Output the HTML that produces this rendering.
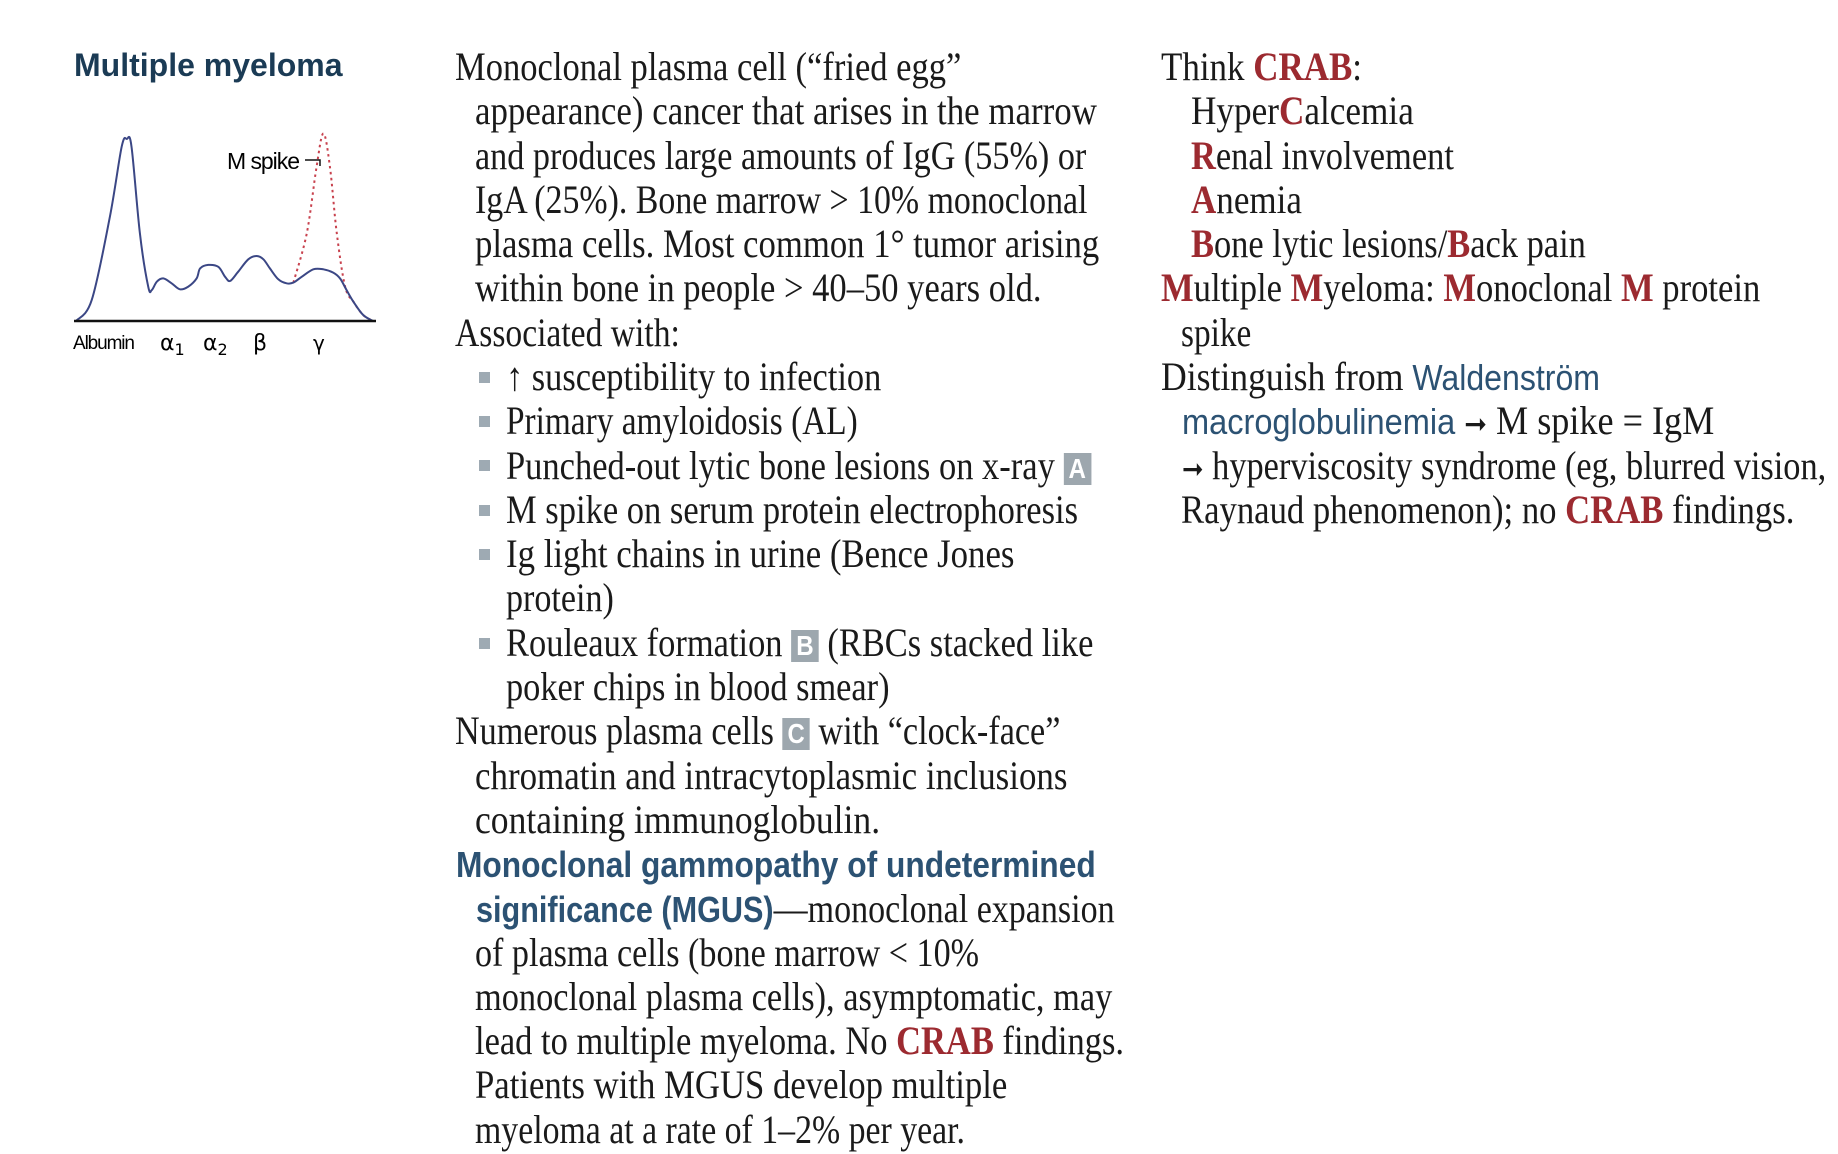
<!DOCTYPE html>
<html>
<head>
<meta charset="utf-8">
<style>
  html,body{margin:0;padding:0;background:#fff;}
  body{width:1838px;height:1154px;position:relative;overflow:hidden;}
  .ln{position:absolute;white-space:nowrap;font-family:"Liberation Serif",serif;font-size:40px;line-height:44px;height:44px;color:#1a1a1a;transform-origin:0 50%;}
  .sans{font-family:"Liberation Sans",sans-serif;font-size:36px;}
  .blue{color:#2c5273;font-weight:bold;}
  .blue2{color:#2c5273;}
  .red{color:#9c2a30;font-weight:bold;}
  .box{display:inline-block;background:#9da7ae;color:#fff;font-family:"Liberation Sans",sans-serif;font-weight:bold;font-size:28px;line-height:32px;width:32px;height:32px;text-align:center;vertical-align:1px;}
  .bul{position:absolute;width:11px;height:11px;background:#9eaab3;}
  #title{position:absolute;left:74px;top:47px;font-family:"Liberation Sans",sans-serif;font-weight:bold;font-size:32px;color:#1b3b55;}
</style>
</head>
<body>
<div id="title">Multiple myeloma</div>

<svg id="chart" width="460" height="380" style="position:absolute;left:0;top:0" xmlns="http://www.w3.org/2000/svg">
  <g id="marks"></g>
  <line x1="74" y1="321" x2="376" y2="321" stroke="#111" stroke-width="2.5"/>
  <text x="73" y="349" font-family="Liberation Sans, sans-serif" font-size="19" textLength="62">Albumin</text>
  <text x="160" y="350" font-family="DejaVu Sans, sans-serif" font-size="22">α<tspan font-size="16" dy="5">1</tspan></text>
  <text x="203" y="350" font-family="DejaVu Sans, sans-serif" font-size="22">α<tspan font-size="16" dy="5">2</tspan></text>
  <text x="253" y="350" font-family="DejaVu Sans, sans-serif" font-size="22">β</text>
  <text x="313" y="350" font-family="DejaVu Sans, sans-serif" font-size="20">γ</text>
  <text x="227" y="169" font-family="Liberation Sans, sans-serif" font-size="23" textLength="73">M spike</text>
  <path d="M305 160 H320 V166" stroke="#111" stroke-width="1.5" fill="none"/>
</svg>

<script>
// Electrophoresis data: mobility (0-100) and relative density (albumin peak = 100)
const mobility = [0,5.3,11.4,15.4,17.1,18.7,21.5,24.3,25.5,27.2,29.4,32.2,35.0,37.8,40.6,41.8,44.5,47.9,50.2,51.9,54.6,58,60.8,63.1,65.3,68.1,70.9,73.2,76,79.9,83.3,86.6,88.9,91.1,93.4,96.7,100];
const density  = [0,11.5,57.3,95.8,100,95.8,48.2,18.9,17,21.6,23.4,20.7,17.4,18.9,23.4,28.9,30.8,29.8,24.3,22,27.1,33.9,35.7,33.9,28.9,22.9,20.7,21.1,24.3,28.4,28.4,26.6,23.4,17,10.6,3.3,0];
const spikeMobility = [73.2,77.7,81,83.3,85.5,87.8,90.6,93.4,96.7,100];
const spikeDensity  = [21.1,48.2,84.8,103,84.8,48.2,18.9,10.6,3.3,0];

function xs(v){ return 76 + v/100*297; }
function ys(v){ return 321 - v/100*182; }
function smooth(xv, yv){
  const p = xv.map((x,i)=>[xs(x), ys(yv[i])]);
  let d = "M"+p[0][0]+" "+p[0][1];
  for(let i=0;i<p.length-1;i++){
    const p0=p[i-1]||p[i], p1=p[i], p2=p[i+1], p3=p[i+2]||p2;
    const c1=[p1[0]+(p2[0]-p0[0])/6, p1[1]+(p2[1]-p0[1])/6];
    const c2=[p2[0]-(p3[0]-p1[0])/6, p2[1]-(p3[1]-p1[1])/6];
    d += " C"+c1[0].toFixed(1)+" "+c1[1].toFixed(1)+" "+c2[0].toFixed(1)+" "+c2[1].toFixed(1)+" "+p2[0].toFixed(1)+" "+p2[1].toFixed(1);
  }
  return d;
}
const NS="http://www.w3.org/2000/svg";
const g=document.getElementById('marks');
const sp=document.createElementNS(NS,'path');
sp.setAttribute('d', smooth(spikeMobility, spikeDensity));
sp.setAttribute('fill','none');sp.setAttribute('stroke','#c8424e');sp.setAttribute('stroke-width','2');sp.setAttribute('stroke-dasharray','2.5 3.5');


g.appendChild(sp);
const cv=document.createElementNS(NS,'path');
cv.setAttribute('d', smooth(mobility, density));
cv.setAttribute('fill','none');cv.setAttribute('stroke','#3b4785');cv.setAttribute('stroke-width','2');


g.appendChild(cv);
</script>

<!-- Column 2 -->
<div class="ln" data-r="816" style="left:455px;top:45px">Monoclonal plasma cell (“fried egg”</div>
<div class="ln" data-r="931" style="left:475px;top:89px">appearance) cancer that arises in the marrow</div>
<div class="ln" data-r="922" style="left:475px;top:134px">and produces large amounts of IgG (55%) or</div>
<div class="ln" data-r="923" style="left:475px;top:178px">IgA (25%). Bone marrow &gt; 10% monoclonal</div>
<div class="ln" data-r="933" style="left:475px;top:222px">plasma cells. Most common 1° tumor arising</div>
<div class="ln" data-r="884" style="left:475px;top:266px">within bone in people &gt; 40–50 years old.</div>
<div class="ln" data-r="577" style="left:455px;top:311px">Associated with:</div>

<div class="bul" style="left:479px;top:372px"></div>
<div class="ln" data-r="748" style="left:506px;top:355px">↑ susceptibility to infection</div>
<div class="bul" style="left:479px;top:416px"></div>
<div class="ln" data-r="728" style="left:506px;top:399px">Primary amyloidosis (AL)</div>
<div class="bul" style="left:479px;top:460px"></div>
<div class="ln" data-r="926" style="left:506px;top:444px">Punched-out lytic bone lesions on x-ray <span class="box">A</span></div>
<div class="bul" style="left:479px;top:505px"></div>
<div class="ln" data-r="915" style="left:506px;top:488px">M spike on serum protein electrophoresis</div>
<div class="bul" style="left:479px;top:549px"></div>
<div class="ln" data-r="861" style="left:506px;top:532px">Ig light chains in urine (Bence Jones</div>
<div class="ln" data-r="521" style="left:506px;top:576px">protein)</div>
<div class="bul" style="left:479px;top:638px"></div>
<div class="ln" data-r="928" style="left:506px;top:621px">Rouleaux formation <span class="box">B</span> (RBCs stacked like</div>
<div class="ln" data-r="755" style="left:506px;top:665px">poker chips in blood smear)</div>

<div class="ln" data-r="900" style="left:455px;top:709px">Numerous plasma cells <span class="box">C</span> with “clock-face”</div>
<div class="ln" data-r="906" style="left:475px;top:754px">chromatin and intracytoplasmic inclusions</div>
<div class="ln" data-r="747" style="left:475px;top:798px">containing immunoglobulin.</div>
<div class="ln" data-r="930" style="left:456px;top:842px"><span class="sans blue">Monoclonal gammopathy of undetermined</span></div>
<div class="ln" data-r="946" style="left:476px;top:887px"><span class="sans blue">significance (MGUS)</span>—monoclonal expansion</div>
<div class="ln" data-r="831" style="left:475px;top:931px">of plasma cells (bone marrow &lt; 10%</div>
<div class="ln" data-r="944" style="left:475px;top:975px">monoclonal plasma cells), asymptomatic, may</div>
<div class="ln" data-r="954" style="left:475px;top:1019px">lead to multiple myeloma. No <span class="red">CRAB</span> findings.</div>
<div class="ln" data-r="855" style="left:475px;top:1063px">Patients with MGUS develop multiple</div>
<div class="ln" data-r="819" style="left:475px;top:1108px">myeloma at a rate of 1–2% per year.</div>

<!-- Column 3 -->
<div class="ln" data-r="1156" style="left:1161px;top:45px">Think <span class="red">CRAB</span>:</div>
<div class="ln" data-r="1200" style="left:1191px;top:89px">Hyper<span class="red">C</span>alcemia</div>
<div class="ln" data-r="1234" style="left:1191px;top:134px"><span class="red">R</span>enal involvement</div>
<div class="ln" data-r="1105" style="left:1191px;top:178px"><span class="red">A</span>nemia</div>
<div class="ln" data-r="1346" style="left:1191px;top:222px"><span class="red">B</span>one lytic lesions/<span class="red">B</span>ack pain</div>
<div class="ln" data-r="1494" style="left:1161px;top:266px"><span class="red">M</span>ultiple <span class="red">M</span>yeloma: <span class="red">M</span>onoclonal <span class="red">M</span> protein</div>
<div class="ln" data-r="1062" style="left:1181px;top:311px">spike</div>
<div class="ln" data-r="1358" style="left:1161px;top:355px">Distinguish from <span class="sans blue2">Waldenström</span></div>
<div class="ln" data-r="1455" style="left:1182px;top:399px"><span class="sans blue2">macroglobulinemia</span> <span style="font-family:'DejaVu Sans',sans-serif;font-size:30px;font-weight:bold">➞</span> M spike = IgM</div>
<div class="ln" data-r="1550" style="left:1182px;top:444px"><span style="font-family:'DejaVu Sans',sans-serif;font-size:30px;font-weight:bold">➞</span> hyperviscosity syndrome (eg, blurred vision,</div>
<div class="ln" data-r="1523" style="left:1181px;top:488px">Raynaud phenomenon); no <span class="red">CRAB</span> findings.</div>

<script>
document.querySelectorAll('.ln').forEach(function(el){
  var r = parseFloat(el.getAttribute('data-r')) * 1.1782;
  var left = parseFloat(el.style.left);
  var w = el.getBoundingClientRect().width;
  var target = r - left;
  if (w > 0 && target > 0) el.style.transform = 'scaleX(' + (target / w).toFixed(4) + ')';
});
</script>
</body>
</html>
